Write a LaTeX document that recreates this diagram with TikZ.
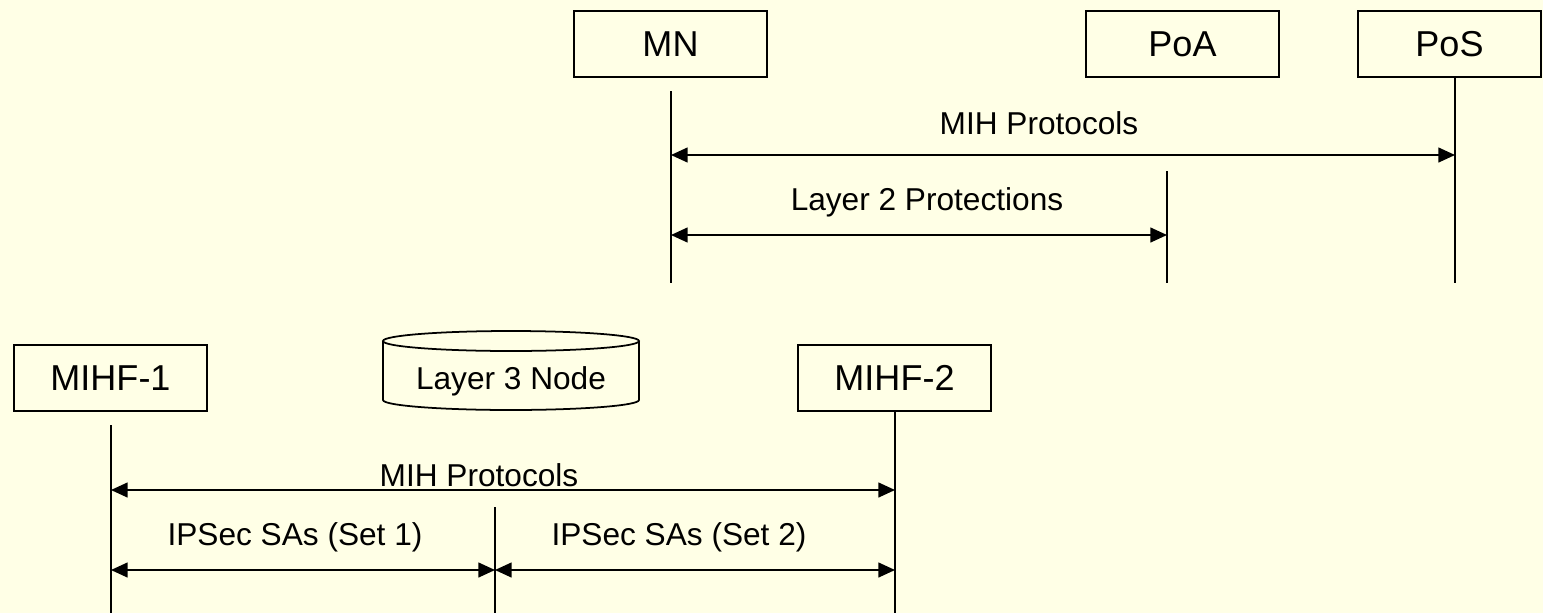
\documentclass[tikz,border=0pt]{standalone}
\usepackage{fontspec}
\setmainfont{Liberation Sans}
\usetikzlibrary{arrows.meta}
\definecolor{paper}{RGB}{255,255,230}
\newcommand{\boxfont}{\fontsize{20.5pt}{24pt}\selectfont}
\newcommand{\lblfont}{\fontsize{18pt}{22pt}\selectfont}
\begin{document}
\begin{tikzpicture}
[x=0.02cm,y=-0.02cm,
entity/.style={rectangle, draw, line width=1pt,
minimum width=3.86cm, minimum height=1.32cm,
inner sep=0pt, font=\boxfont},
lifeline/.style={draw, line width=0.9pt},
msg/.style={draw, line width=0.9pt,
{Triangle[length=9.5pt,width=8.5pt]}-{Triangle[length=9.5pt,width=8.5pt]}},
lbl/.style={font=\lblfont, inner sep=0pt}]
\fill[paper] (0,0) rectangle (1543,613);
\useasboundingbox (0,0) rectangle (1543,613);
% upper part
\node [entity] (mn) at (670.5,44) {MN};
\node [entity] (poa) at (1182.5,44) {PoA};
\node [entity, minimum width=3.66cm] (pos) at (1449.5,44) {PoS};
\coordinate (mnTop) at (671,91);
\coordinate (mnBot) at (671,283);
\coordinate (poaTop) at (1167,171);
\coordinate (poaBot) at (1167,283);
\coordinate (posTop) at (1455,77);
\coordinate (posBot) at (1455,283);
\coordinate (yMihA) at (0,155);
\coordinate (yLtwo) at (0,235);
\path [lifeline] (mnTop) -- (mnBot);
\path [lifeline] (poaTop) -- (poaBot);
\path [lifeline] (posTop) -- (posBot);
\path [msg] (mnTop |- yMihA) -- (posTop |- yMihA);
\path [msg] (mnTop |- yLtwo) -- (poaTop |- yLtwo);
\node [lbl] (mihA) at (1039,123) {MIH Protocols};
\node [lbl] (ltwo) at (927,202) {Layer 2 Protections};
% lower part
\node [entity] (mihfa) at (110.5,378) {MIHF-1};
\node [entity] (mihfb) at (894.5,378) {MIHF-2};
\draw [line width=1pt] (383,341) -- (383,400)
  arc [start angle=180, end angle=360, x radius=2.56cm, y radius=0.2cm]
  -- (639,341);
\draw [line width=1pt] (511,341) ellipse [x radius=2.56cm, y radius=0.2cm];
\node [lbl] (lthree) at (511,381) {Layer 3 Node};
\coordinate (mfaTop) at (111,425);
\coordinate (mfaBot) at (111,613);
\coordinate (midTop) at (495,507);
\coordinate (midBot) at (495,613);
\coordinate (mfbTop) at (895,411);
\coordinate (mfbBot) at (895,613);
\coordinate (yMihB) at (0,490);
\coordinate (ySa) at (0,570);
\path [lifeline] (mfaTop) -- (mfaBot);
\path [lifeline] (midTop) -- (midBot);
\path [lifeline] (mfbTop) -- (mfbBot);
\path [msg] (mfaTop |- yMihB) -- (mfbTop |- yMihB);
\path [msg] (mfaTop |- ySa) -- (midTop |- ySa);
\path [msg] (midTop |- ySa) -- (mfbTop |- ySa);
\node [lbl] (mihB) at (479,475) {MIH Protocols};
\node [lbl] (saone) at (295,537) {IPSec SAs (Set 1)};
\node [lbl] (satwo) at (679,537) {IPSec SAs (Set 2)};
\end{tikzpicture}
\end{document}
